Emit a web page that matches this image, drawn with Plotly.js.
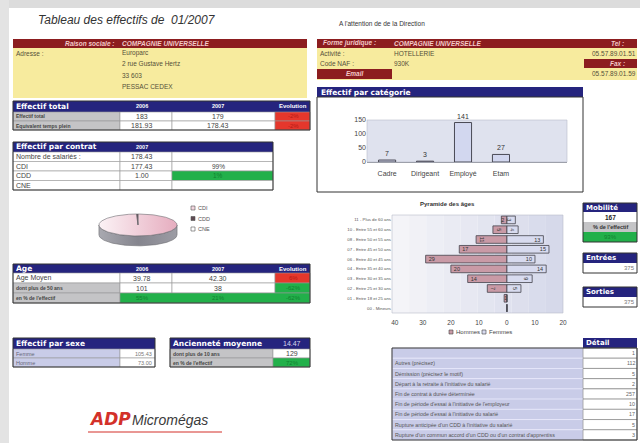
<!DOCTYPE html>
<html><head><meta charset="utf-8">
<script src="https://cdn.plot.ly/plotly-3.0.1.min.js"></script>
<style>html,body{margin:0;padding:0;background:#fff;}#chart{width:640px;height:443px;}</style>
</head><body><div id="chart"></div>
<script>
// ---------------- DATA ----------------
const categories = ['Cadre','Dirigeant','Employé','Etam'];
const categoryCounts = [7,3,141,27];

const ageGroups = ['11 - Plus de 60 ans','10 - Entre 55 et 60 ans','08 - Entre 50 et 55 ans','07 - Entre 45 et 50 ans','06 - Entre 40 et 45 ans','04 - Entre 35 et 40 ans','03 - Entre 30 et 35 ans','02 - Entre 25 et 30 ans','01 - Entre 18 et 25 ans','00 - Mineurs'];
const hommes = [2,5,11,17,29,20,14,7,1,0];
const femmes = [3,4,13,15,10,14,9,5,0,0];
const pyramidTicks = [-40,-30,-20,-10,0,10,20];
const pyramidTickText = ['40','30','20','10','0','10','20'];

const contratLabels = ['CDI','CDD','CNE'];
const contratValues = [177.43,1.00,0];

const yearLabels = ['2006','2007'];
const effectifTotalRows = ['Effectif total','Equivalent temps plein'];
const effectifTotalVals = [['183','179','-2%'],['181.93','178.43','-2%']];

const ageRows = ['Age Moyen','dont plus de 50 ans',"en % de l'effectif"];
const ageVals = [['39.78','42.30','6%'],['101','38','-62%'],['55%','21%','-62%']];

const sexeLabels = ['Femme','Homme'];
const sexeValues = ['105.43','73.00'];

const ancienneteMoyenne = '14.47';
const ancienneteRows = ['dont plus de 10 ans',"en % de l'effectif"];
const ancienneteVals = ['129','72%'];

const mobiliteVals = ['167',"% de l'effectif",'93%'];
const entreesVal = '375';
const sortiesVal = '375';

const detailLabels = ['','Autres (précisez)','Démission (précisez le motif)',"Départ à la retraite à l'initiative du salarié",'Fin de contrat à durée déterminée',"Fin de période d'essai à l'initiative de l'employeur","Fin de période d'essai à l'initiative du salarié","Rupture anticipée d'un CDD à l'initiative du salarié","Rupture d'un commun accord d'un CDD ou d'un contrat d'apprentiss"];
const detailValues = ['1','112','5','2','257','10','17','5','3'];

// ---------------- HELPERS ----------------
const W=640,H=443;
const px=x=>x/W, py=y=>1-y/H;
const NAVY='#25247e', DRED='#8c1d1f', YEL='#f7eb9e', GRAY='#c4c4c6', RED='#e5372c', GREEN='#22b04a', LAV='#c9cce8';
const SANS='Liberation Sans, Arial, sans-serif', DV='DejaVu Sans, Verdana, sans-serif';
const shapes=[], annos=[];
function rect(x0,y0,x1,y1,fill,line,lw){
  shapes.push({type:'rect',xref:'paper',yref:'paper',x0:px(x0),x1:px(x1),y0:py(y1),y1:py(y0),
    fillcolor:fill||'rgba(0,0,0,0)',line:{color:line||'rgba(0,0,0,0)',width:line?(lw||0.6):0},layer:'below'});
}
function hline(x0,x1,y,color,w){
  shapes.push({type:'line',xref:'paper',yref:'paper',x0:px(x0),x1:px(x1),y0:py(y),y1:py(y),line:{color:color,width:w||1}});
}
function txt(x,y,s,o){
  o=o||{};
  annos.push({xref:'paper',yref:'paper',x:px(x),y:py(y),text:s,showarrow:false,xanchor:o.a||'left',yanchor:'middle',
    borderpad:0,font:{family:o.f||SANS,size:o.s||7,color:o.c||'#444'}});
}

// photo edges
rect(0,0,640,8,'#dcdcdc');
rect(0,0,9,443,'#e3e3e3');

// title
txt(37,20,'<i>Tableau des effectifs de  01/2007</i>',{s:12,c:'#333'});
txt(338,24,"A l'attention de de la Direction",{s:6.5,c:'#333'});

// Raison sociale block
rect(13,39,307,48,DRED);
txt(116,43.5,'<b><i>Raison sociale :</i></b>',{a:'right',s:6.5,c:'#f3c9c9'});
txt(121,43.5,'<b><i>COMPAGNIE UNIVERSELLE</i></b>',{s:6.5,c:'#f3c9c9'});
rect(13,48,307,98,YEL);
txt(15,53,'Adresse :',{s:6.5,c:'#55503a'});
['Europarc','2 rue Gustave Hertz','33 603','PESSAC CEDEX'].forEach((t,i)=>txt(121,53+i*11,t,{s:6.5,c:'#55503a'}));

// Forme juridique block
rect(317,39,637,48,DRED);
txt(322,43.5,'<b><i>Forme juridique :</i></b>',{s:6.5,c:'#f3c9c9'});
txt(393,43.5,'<b><i>COMPAGNIE UNIVERSELLE</i></b>',{s:6.5,c:'#f3c9c9'});
txt(617,43.5,'<b><i>Tel :</i></b>',{a:'center',s:6.5,c:'#f3c9c9'});
rect(317,48,637,80,YEL);
txt(319,54,'Activité :',{s:6.5,c:'#55503a'});
txt(393,54,'HOTELLERIE',{s:6.5,c:'#55503a'});
txt(319,63,'Code NAF :',{s:6.5,c:'#55503a'});
txt(393,63,'930K',{s:6.5,c:'#55503a'});
txt(637,54,'05.57.89.01.51',{a:'right',s:6.5,c:'#55503a'});
rect(584,59,637,68,DRED);
txt(617,63.5,'<b><i>Fax :</i></b>',{a:'center',s:6.5,c:'#f3c9c9'});
txt(637,74,'05.57.89.01.59',{a:'right',s:6.5,c:'#55503a'});
rect(317,69,392,79,DRED);
txt(355,74,'<b><i>Email</i></b>',{a:'center',s:6.5,c:'#f3c9c9'});

// Effectif par catégorie panel
rect(317,87,583,97,NAVY);
txt(320,92,'<b>Effectif par catégorie</b>',{f:DV,s:7.5,c:'#fff'});
rect(317,97,583,192,'#fff','#333',1);

// Effectif total table
rect(13,101,310,112,NAVY);
txt(15,106.5,'<b>Effectif total</b>',{f:DV,s:7.5,c:'#fff'});
txt(142,106.5,'<b>'+yearLabels[0]+'</b>',{a:'center',s:5.5,c:'#fff'});
txt(218,106.5,'<b>'+yearLabels[1]+'</b>',{a:'center',s:5.5,c:'#fff'});
txt(293,106.5,'<b>Evolution</b>',{a:'center',s:6,c:'#fff'});
effectifTotalRows.forEach((lab,i)=>{
  const y0=112+i*9,y1=y0+9,m=(y0+y1)/2;
  rect(13,y0,120,y1,GRAY,'#999'); rect(120,y0,172,y1,'#fff','#999'); rect(172,y0,275,y1,'#fff','#999'); rect(275,y0,310,y1,RED,'#999');
  txt(15,m,'<b>'+lab+'</b>',{s:5,c:'#444'});
  txt(142,m,effectifTotalVals[i][0],{a:'center',s:7});
  txt(218,m,effectifTotalVals[i][1],{a:'center',s:7});
  txt(293,m,effectifTotalVals[i][2],{a:'center',s:6,c:'#b51a14'});
});
rect(13,101,310,130,null,'#333',1);

// Effectif par contrat table
const contratTotal = contratValues.reduce((a,b)=>a+b,0);
rect(13,142,273,152,NAVY);
txt(15,147,'<b>Effectif par contrat</b>',{f:DV,s:7.5,c:'#fff'});
txt(142,147,'<b>'+yearLabels[1]+'</b>',{a:'center',s:5.5,c:'#fff'});
const cLabels=['Nombre de salariés :'].concat(contratLabels);
const cVals=[contratTotal.toFixed(2)].concat(contratValues.map(v=>v>0?v.toFixed(2):''));
const cPct=[''].concat(contratValues.map(v=>v>0?Math.max(1,Math.round(100*v/contratTotal))+'%':''));
cLabels.forEach((lab,i)=>{
  const y0=152+i*9.5,y1=y0+9.5,m=(y0+y1)/2;
  rect(13,y0,120,y1,'#fff','#999'); rect(120,y0,172,y1,'#fff','#999');
  rect(172,y0,273,y1,lab==='CDD'?GREEN:'#fff','#999');
  txt(15,m,lab,{s:7,c:'#444'});
  txt(142,m,cVals[i],{a:'center',s:7});
  txt(218,m,cPct[i],{a:'center',s:6.5,c:lab==='CDD'?'#11802f':'#444'});
});
rect(13,142,273,190,null,'#333',1);

// pie legend
const pieColors=['#f3d6df','#5e4a53','#ffffff'];
contratLabels.forEach((lab,i)=>{
  const y=208+i*10.5;
  rect(191,y-2,195,y+2,pieColors[i],'#555',0.6);
  txt(197,y,lab,{s:5.5,c:'#555'});
});

// Age table
rect(13,264,310,273,NAVY);
txt(15,268.5,'<b>Age</b>',{f:DV,s:7.5,c:'#fff'});
txt(142,268.5,'<b>'+yearLabels[0]+'</b>',{a:'center',s:5.5,c:'#fff'});
txt(218,268.5,'<b>'+yearLabels[1]+'</b>',{a:'center',s:5.5,c:'#fff'});
txt(293,268.5,'<b>Evolution</b>',{a:'center',s:6,c:'#fff'});
ageRows.forEach((lab,i)=>{
  const y0=273+i*10,y1=y0+10,m=(y0+y1)/2;
  rect(13,y0,120,y1,i===0?'#fff':GRAY,'#999');
  if(i<2){ rect(120,y0,172,y1,'#fff','#999'); rect(172,y0,275,y1,'#fff','#999'); rect(275,y0,310,y1,i===0?RED:GREEN,'#999'); }
  else { rect(120,y0,310,y1,GREEN,'#999'); }
  txt(15,m,i===0?lab:'<b>'+lab+'</b>',{s:i===0?7:5,c:'#444'});
  const vc=i===2?'#11802f':'#444';
  txt(142,m,ageVals[i][0],{a:'center',s:i===2?6:7,c:vc});
  txt(218,m,ageVals[i][1],{a:'center',s:i===2?6:7,c:vc});
  txt(293,m,ageVals[i][2],{a:'center',s:6,c:i===0?'#b51a14':'#11802f'});
});
rect(13,264,310,303,null,'#333',1);

// Effectif par sexe
rect(13,338,155,349,NAVY);
txt(15,343.5,'<b>Effectif par sexe</b>',{f:DV,s:7.5,c:'#fff'});
sexeLabels.forEach((lab,i)=>{
  const y0=349+i*9,y1=y0+9,m=(y0+y1)/2;
  rect(13,y0,120,y1,LAV,'#999'); rect(120,y0,155,y1,'#fff','#999');
  txt(15,m,lab,{s:5.5,c:'#667'});
  txt(153,m,sexeValues[i],{a:'right',s:5.5,c:'#777'});
});
rect(13,338,155,367,null,'#333',1);

// Ancienneté
rect(170,338,310,349,NAVY);
txt(172,343.5,'<b>Ancienneté moyenne</b>',{f:DV,s:7.5,c:'#fff'});
txt(292,343.5,ancienneteMoyenne,{a:'center',s:7,c:'#d8d8ee'});
ancienneteRows.forEach((lab,i)=>{
  const y0=349+i*9,y1=y0+9,m=(y0+y1)/2;
  rect(170,y0,273,y1,GRAY,'#999'); rect(273,y0,310,y1,i===1?GREEN:'#fff','#999');
  txt(172,m,'<b>'+lab+'</b>',{s:5,c:'#444'});
  txt(292,m,ancienneteVals[i],{a:'center',s:i===1?6:7,c:i===1?'#11802f':'#444'});
});
rect(170,338,310,367,null,'#333',1);

// Mobilité
rect(583,203,637,212,NAVY);
txt(585,207.5,'<b>Mobilité</b>',{f:DV,s:7,c:'#fff'});
rect(583,212,637,222,'#fff');
txt(610,217,'<b>'+mobiliteVals[0]+'</b>',{a:'center',s:6.5,c:'#222'});
rect(583,222,637,232,GRAY);
txt(610,227,'<b>'+mobiliteVals[1]+'</b>',{a:'center',s:5.5,c:'#333'});
rect(583,232,637,242,GREEN);
txt(610,237,mobiliteVals[2],{a:'center',s:6,c:'#11802f'});
rect(583,203,637,242,null,'#333',1);

// Entrées / Sorties
[[253,'Entrées',entreesVal],[287,'Sorties',sortiesVal]].forEach(([y,t,v])=>{
  rect(583,y,637,y+10,NAVY);
  txt(585,y+5,'<b>'+t+'</b>',{f:DV,s:7,c:'#fff'});
  rect(583,y+10,637,y+20,'#fff');
  txt(636,y+15,v,{a:'right',s:6,c:'#777'});
  rect(583,y,637,y+20,null,'#333',1);
});

// Détail table
rect(583,338,637,348,NAVY);
txt(585,343,'<b>Détail</b>',{f:DV,s:7,c:'#fff'});
const dh=(440-348)/detailLabels.length;
detailLabels.forEach((lab,i)=>{
  const y0=348+i*dh,y1=y0+dh,m=(y0+y1)/2;
  rect(392,y0,583,y1,LAV,'#eef'); rect(583,y0,637,y1,'#fff','#777');
  txt(394,m,lab,{s:5.3,c:'#555'});
  txt(636,m,detailValues[i],{a:'right',s:5.3,c:'#666'});
});
rect(392,348,637,440,null,'#333',1);

// Pyramide title + legend
txt(447,204,'<b>Pyramide des âges</b>',{a:'center',s:6,c:'#333'});
rect(449,330,453,334,'#c99aa6','#444',0.6);
txt(455,332,'Hommes',{s:6,c:'#444'});
rect(482,330,486,334,'#d8dbef','#444',0.6);
txt(488,332,'Femmes',{s:6,c:'#444'});

// Logo
txt(88,419,'<b><i>ADP</i></b>',{f:DV,s:17,c:'#d3312a'});
txt(131,420,'<i>Micromégas</i>',{s:14,c:'#3a3a3a'});
hline(88,222,432,'#d3312a',1.2);

// plot backgrounds (axis-domain referenced)
shapes.push({type:'rect',xref:'x domain',yref:'y domain',x0:0,x1:1,y0:0,y1:1,fillcolor:'#dfe2ee',line:{color:'#b8bccb',width:0.6},layer:'below'});
const NS=10;
function mix(a,b,t){const pa=[1,3,5].map(i=>parseInt(a.substr(i,2),16)),pb=[1,3,5].map(i=>parseInt(b.substr(i,2),16));return 'rgb('+pa.map((v,i)=>Math.round(v+(pb[i]-v)*t)).join(',')+')';}
for(let k=0;k<NS;k++){
  shapes.push({type:'rect',xref:'x2 domain',yref:'y2 domain',x0:k/NS,x1:(k+1)/NS,y0:0,y1:1,fillcolor:mix('#f4f4f8','#d6d9ea',k/(NS-1)),line:{width:0},layer:'below'});
}
shapes.push({type:'rect',xref:'x2 domain',yref:'y2 domain',x0:0,x1:1,y0:0,y1:1,fillcolor:'rgba(0,0,0,0)',line:{color:'#b8bccb',width:0.6},layer:'below'});

// ---------------- TRACES ----------------
const traces=[];
traces.push({type:'bar',x:categories,y:categoryCounts,xaxis:'x',yaxis:'y',width:0.45,
  marker:{color:'#d2d7ef',line:{color:'#4a4a55',width:1}},
  text:categoryCounts.map(String),textposition:'outside',cliponaxis:false,
  textfont:{family:SANS,size:7,color:'#333'},showlegend:false,hoverinfo:'skip'});

traces.push({type:'bar',orientation:'h',y:ageGroups,x:hommes.map(v=>-v),xaxis:'x2',yaxis:'y2',width:0.78,name:'Hommes',
  marker:{color:'#c99aa6',line:{color:'#44444c',width:0.8}},
  text:hommes.map(v=>v>0?String(v):''),textposition:'inside',insidetextanchor:'end',constraintext:'none',
  textfont:{family:SANS,size:5.5,color:'#333'},showlegend:false,hoverinfo:'skip'});
traces.push({type:'bar',orientation:'h',y:ageGroups,x:femmes,xaxis:'x2',yaxis:'y2',width:0.78,name:'Femmes',
  marker:{color:'#d8dbef',line:{color:'#44444c',width:0.8}},
  text:femmes.map(v=>v>0?String(v):''),textposition:'inside',insidetextanchor:'end',constraintext:'none',
  textfont:{family:SANS,size:5.5,color:'#333'},showlegend:false,hoverinfo:'skip'});

// elliptical 3D-style pie from contrat values
const DEPTH=0.9;
const sideCols=['#8f8f97','#4a3c42','#bbbbbb'];
const topScales=[[[0,'#fbf2f5'],[1,'#e6adbf']],null,null];
let cum=0;
const sideTr=[], topTr=[];
contratValues.forEach((v,i)=>{
  if(v<=0){return;}
  const a0=Math.PI/2-2*Math.PI*cum/contratTotal;
  const a1=Math.PI/2-2*Math.PI*(cum+v)/contratTotal;
  cum+=v;
  const n=Math.max(3,Math.ceil(Math.abs(a0-a1)/(Math.PI/120)));
  const xs=[0],ys=[0];
  for(let k=0;k<=n;k++){const a=a0+(a1-a0)*k/n;xs.push(Math.cos(a));ys.push(Math.sin(a));}
  xs.push(0);ys.push(0);
  const t={type:'scatter',mode:'lines',x:xs,y:ys,xaxis:'x3',yaxis:'y3',fill:'toself',fillcolor:pieColors[i],
    line:{color:'#6b6b70',width:0.6},showlegend:false,hoverinfo:'skip'};
  if(topScales[i]) t.fillgradient={type:'horizontal',colorscale:topScales[i]};
  topTr.push(t);
  for(let kk=-2;kk<=1;kk++){
    const lo=Math.max(a1,-Math.PI+2*Math.PI*kk), hi=Math.min(a0,2*Math.PI*kk);
    if(hi-lo<=1e-6) continue;
    const m=Math.max(3,Math.ceil((hi-lo)/(Math.PI/120)));
    const sx=[],sy=[];
    for(let k=0;k<=m;k++){const a=lo+(hi-lo)*k/m;sx.push(Math.cos(a));sy.push(Math.sin(a));}
    for(let k=m;k>=0;k--){const a=lo+(hi-lo)*k/m;sx.push(Math.cos(a));sy.push(Math.sin(a)-DEPTH);}
    sx.push(sx[0]);sy.push(sy[0]);
    const s={type:'scatter',mode:'lines',x:sx,y:sy,xaxis:'x3',yaxis:'y3',fill:'toself',fillcolor:sideCols[i],
      line:{color:'#6b6b70',width:0.6},showlegend:false,hoverinfo:'skip'};
    if(i===0) s.fillgradient={type:'horizontal',colorscale:[[0,'#a9a9b0'],[0.5,'#85858e'],[1,'#9c9ca4']]};
    sideTr.push(s);
  }
});
traces.push(...sideTr,...topTr);

// ---------------- LAYOUT ----------------
const layout={
  width:640,height:443,margin:{l:0,r:0,t:0,b:0},
  paper_bgcolor:'#ffffff',plot_bgcolor:'rgba(0,0,0,0)',
  barmode:'relative',showlegend:false,
  font:{family:SANS,size:7,color:'#444'},
  xaxis:{domain:[px(367),px(567)],anchor:'y',type:'category',range:[-0.53,4.74],showgrid:false,zeroline:false,
    showline:true,linecolor:'#8a8d99',linewidth:0.8,ticks:'outside',ticklen:5,tickcolor:'rgba(0,0,0,0)',
    tickfont:{family:SANS,size:7,color:'#444'},fixedrange:true},
  yaxis:{domain:[py(162),py(120)],anchor:'x',range:[0,150],tickvals:[0,50,100,150],showgrid:false,zeroline:false,
    tickfont:{family:SANS,size:7,color:'#444'},fixedrange:true},
  xaxis2:{domain:[px(392),px(563)],anchor:'y2',range:[-41,20],tickvals:pyramidTicks,ticktext:pyramidTickText,
    showgrid:false,zeroline:false,ticks:'outside',ticklen:3,tickcolor:'rgba(0,0,0,0)',
    tickfont:{family:SANS,size:6.5,color:'#444'},fixedrange:true},
  yaxis2:{domain:[py(313),py(215)],anchor:'x2',type:'category',autorange:'reversed',showgrid:false,zeroline:false,
    tickfont:{family:SANS,size:4.3,color:'#555'},fixedrange:true},
  xaxis3:{domain:[px(97),px(179)],anchor:'y3',range:[-1.05,1.05],visible:false,fixedrange:true},
  yaxis3:{domain:[py(247.5),py(212.9)],anchor:'x3',range:[-2.05,1.1],visible:false,fixedrange:true},
  shapes:shapes,annotations:annos
};
Plotly.newPlot('chart',traces,layout,{staticPlot:true,displayModeBar:false});
</script></body></html>
